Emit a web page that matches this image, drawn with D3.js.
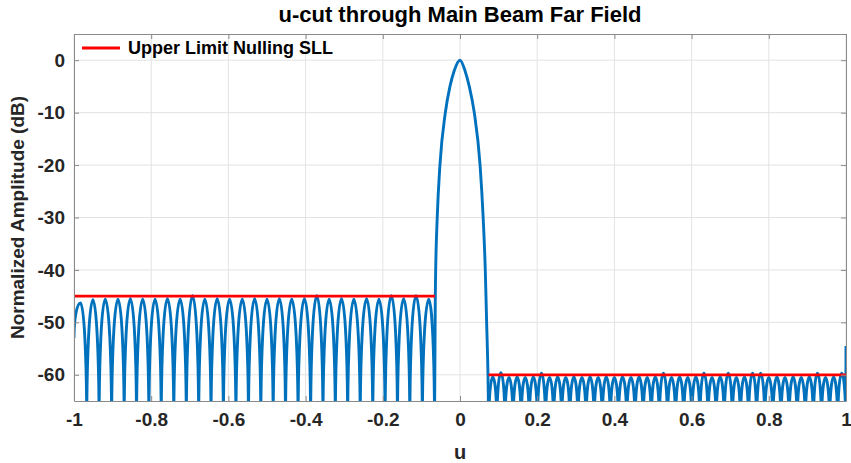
<!DOCTYPE html>
<html lang="en">
<head>
<meta charset="UTF-8">
<title>u-cut through Main Beam Far Field</title>
<script src="https://cdn.jsdelivr.net/npm/d3@7"></script>
<style>
  body { margin: 0; background: #fff; }
  svg { font-family: "Liberation Sans", Arial, sans-serif; font-weight: bold; }
  .grid line { stroke: #e3e3e3; stroke-width: 1; }
  .axis path, .axis line { stroke: #8a8a8a; }
  .axis text { fill: #262626; font-size: 19px; font-weight: bold; }
</style>
</head>
<body>
<script>
// ---- data ----
const xTicks = [-1, -0.8, -0.6, -0.4, -0.2, 0, 0.2, 0.4, 0.6, 0.8, 1];
const yTicks = [0, -10, -20, -30, -40, -50, -60];

// main beam (u, dB)
const mainU  = [-0.066, -0.064, -0.063, -0.059, -0.052, -0.038, -0.026, -0.015, 0, 0.013, 0.024, 0.037, 0.052, 0.060, 0.0655, 0.069, 0.0725, 0.0745];
const mainDb = [-70, -45, -40, -30, -20, -10, -5, -2, 0, -2, -5, -10, -20, -30, -40, -50, -60, -70];

// sidelobe peaks left of the main beam
const leftPeakU = [-0.983, -0.951, -0.919, -0.886, -0.854, -0.822, -0.790, -0.758, -0.725, -0.693,
  -0.661, -0.629, -0.597, -0.564, -0.532, -0.500, -0.468, -0.436, -0.403, -0.371,
  -0.339, -0.307, -0.275, -0.242, -0.210, -0.178, -0.146, -0.114, -0.081];
const leftPeakDb = [-46.3, -45.7, -45.6, -45.6, -45.5, -45.6, -45.6, -45.5, -45.6, -44.9,
  -45.6, -45.5, -45.6, -45.6, -45.5, -45.6, -45.5, -45.6, -45.5, -44.9,
  -45.6, -45.5, -45.6, -45.5, -45.6, -44.9, -45.5, -44.9, -45.6];
const leftStart = [-1, -53];

// sidelobe peaks right of the main beam
const rightPeakU = [0.085, 0.106, 0.127, 0.148, 0.169, 0.190, 0.211, 0.232, 0.253, 0.274,
  0.295, 0.316, 0.337, 0.358, 0.379, 0.400, 0.421, 0.443, 0.464, 0.485,
  0.506, 0.527, 0.548, 0.569, 0.590, 0.611, 0.632, 0.653, 0.674, 0.695,
  0.716, 0.737, 0.758, 0.779, 0.800, 0.821, 0.842, 0.863, 0.884, 0.905,
  0.926, 0.947, 0.968, 0.989];
const rightPeakDb = [-60.4, -59.6, -60.5, -60.4, -60.5, -60.4, -59.7, -60.5, -60.4, -60.5,
  -60.4, -60.5, -60.4, -60.5, -60.4, -60.5, -60.4, -60.5, -60.4, -60.5,
  -60.4, -59.7, -60.5, -60.4, -60.5, -60.4, -59.7, -60.5, -60.4, -59.7,
  -60.5, -60.4, -59.7, -59.7, -60.5, -60.4, -60.5, -60.4, -60.5, -60.4,
  -59.7, -60.5, -60.4, -59.7];
const rightTailU  = [0.9995, 1];
const rightTailDb = [-70, -54.5];

// upper limit (red)
const limitU  = [[-1, -0.065], [0.074, 1]];
const limitDb = [-45, -60];
const nullDb = -70;

// ---- layout ----
const width = 851, height = 463;
const margin = { top: 34, right: 5, bottom: 62, left: 74 };
const plotW = width - margin.left - margin.right;
const plotH = height - margin.top - margin.bottom;

const x = d3.scaleLinear().domain([-1, 1]).range([0, plotW]);
const y = d3.scaleLinear().domain([-65, 5]).range([plotH, 0]);

const svg = d3.select('body').append('svg')
  .attr('width', width)
  .attr('height', height);

svg.append('defs').append('clipPath')
  .attr('id', 'plot-clip')
  .append('rect')
  .attr('width', plotW)
  .attr('height', plotH);

const g = svg.append('g')
  .attr('transform', 'translate(' + margin.left + ',' + margin.top + ')');

// grid
g.append('g').attr('class', 'grid')
  .selectAll('line.vx').data(xTicks).enter().append('line')
  .attr('x1', d => x(d)).attr('x2', d => x(d))
  .attr('y1', 0).attr('y2', plotH);
g.append('g').attr('class', 'grid')
  .selectAll('line.hy').data(yTicks).enter().append('line')
  .attr('y1', d => y(d)).attr('y2', d => y(d))
  .attr('x1', 0).attr('x2', plotW);

// curve: arcs for the sidelobes, a smooth line for the main beam
function arcTo(u, db, pu, pdb) {
  const rx = Math.abs(x(u) - x(pu));
  const ry = Math.abs(y(db) - y(pdb));
  return 'A' + rx + ',' + ry + ' 0 0 1 ' + x(u) + ',' + y(db);
}

function lobes(peaksU, peaksDb, startU, startDb, endU) {
  let d = 'M' + x(startU) + ',' + y(startDb);
  let pu = startU, pdb = startDb;
  peaksU.forEach((u, i) => {
    d += arcTo(u, peaksDb[i], pu, pdb);
    const nu = i < peaksU.length - 1 ? (u + peaksU[i + 1]) / 2 : endU;
    d += arcTo(nu, nullDb, u, peaksDb[i]);
    pu = nu; pdb = nullDb;
  });
  return d;
}

const body = g.append('g').attr('clip-path', 'url(#plot-clip)');
const blue = '#0072BD';
const lw = 2.9;

body.append('path')
  .attr('d', lobes(leftPeakU, leftPeakDb, leftStart[0], leftStart[1], mainU[0]))
  .attr('fill', 'none').attr('stroke', blue).attr('stroke-width', lw);

const rightFirstNull = mainU[mainU.length - 1];
body.append('path')
  .attr('d', lobes(rightPeakU, rightPeakDb, rightFirstNull, nullDb, rightTailU[0]) +
    'L' + x(rightTailU[1]) + ',' + y(rightTailDb[1]))
  .attr('fill', 'none').attr('stroke', blue).attr('stroke-width', lw);

const beam = d3.line()
  .x(d => x(d[0]))
  .y(d => y(d[1]))
  .curve(d3.curveMonotoneX);
body.append('path')
  .attr('d', beam(mainU.map((u, i) => [u, mainDb[i]])))
  .attr('fill', 'none').attr('stroke', blue).attr('stroke-width', lw);

// upper limit lines
body.selectAll('line.limit').data(limitU).enter().append('line')
  .attr('class', 'limit')
  .attr('x1', d => x(d[0])).attr('x2', d => x(d[1]))
  .attr('y1', (d, i) => y(limitDb[i])).attr('y2', (d, i) => y(limitDb[i]))
  .attr('stroke', '#ff0000').attr('stroke-width', 2.8);

// axes (ticks on all four sides, inward)
const fmt = d => (d === 0 ? '0' : d3.format('~g')(d)).replace('\u2212', '-');
g.append('g').attr('class', 'axis')
  .attr('transform', 'translate(0,' + plotH + ')')
  .call(d3.axisBottom(x).tickValues(xTicks).tickFormat(fmt).tickSizeInner(-5).tickSizeOuter(0).tickPadding(12));
g.append('g').attr('class', 'axis')
  .call(d3.axisTop(x).tickValues(xTicks).tickFormat('').tickSizeInner(-5).tickSizeOuter(0));
g.append('g').attr('class', 'axis')
  .call(d3.axisLeft(y).tickValues(yTicks).tickFormat(fmt).tickSizeInner(-5).tickSizeOuter(0).tickPadding(9));
g.append('g').attr('class', 'axis')
  .attr('transform', 'translate(' + plotW + ',0)')
  .call(d3.axisRight(y).tickValues(yTicks).tickFormat('').tickSizeInner(-5).tickSizeOuter(0));

// labels
svg.append('text')
  .attr('x', margin.left + plotW / 2).attr('y', 22)
  .attr('text-anchor', 'middle')
  .attr('font-size', 22).attr('fill', '#000')
  .text('u-cut through Main Beam Far Field');

svg.append('text')
  .attr('x', margin.left + plotW / 2).attr('y', 459)
  .attr('text-anchor', 'middle')
  .attr('font-size', 20).attr('fill', '#262626')
  .text('u');

svg.append('text')
  .attr('transform', 'translate(24,' + (margin.top + plotH / 2) + ') rotate(-90)')
  .attr('text-anchor', 'middle')
  .attr('font-size', 19).attr('fill', '#262626')
  .text('Normalized Amplitude (dB)');

// legend
const legend = g.append('g').attr('transform', 'translate(8,14)');
legend.append('line')
  .attr('x1', 0).attr('x2', 38).attr('y1', 0).attr('y2', 0)
  .attr('stroke', '#ff0000').attr('stroke-width', 2.8);
legend.append('text')
  .attr('x', 46).attr('y', 6)
  .attr('font-size', 18).attr('fill', '#000')
  .text('Upper Limit Nulling SLL');
</script>
</body>
</html>
